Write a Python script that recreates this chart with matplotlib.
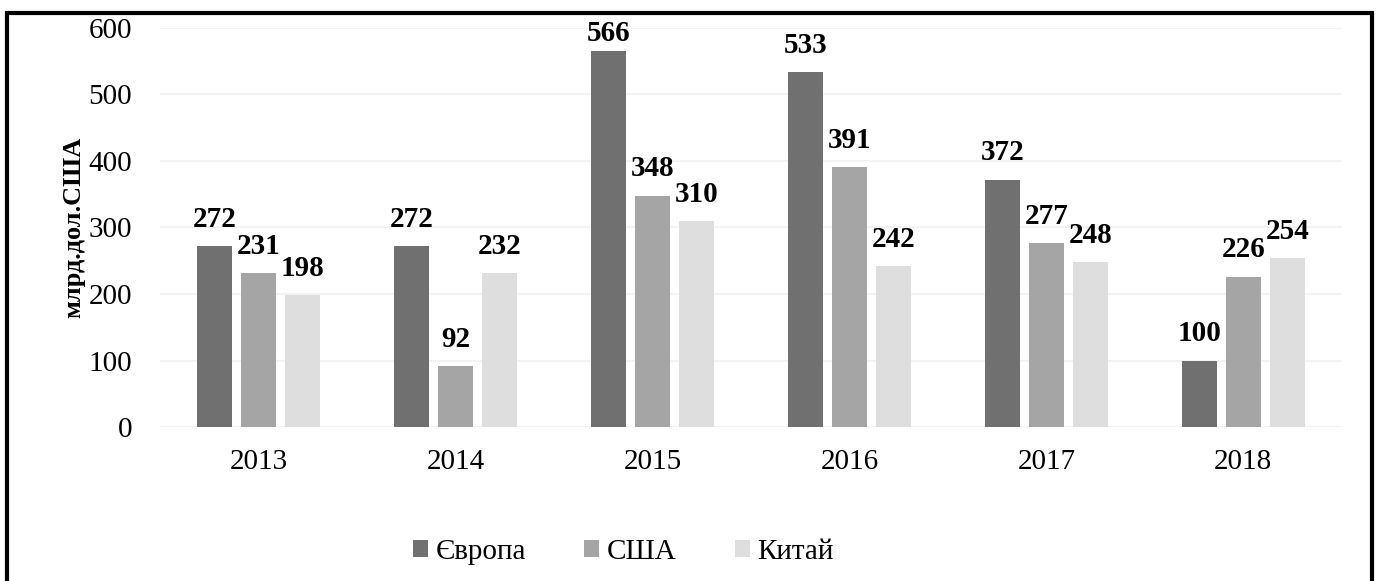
import matplotlib.pyplot as plt
import numpy as np
from matplotlib.patches import Rectangle

plt.rcParams['font.family'] = ['Liberation Serif', 'DejaVu Serif']

years = ['2013', '2014', '2015', '2016', '2017', '2018']
europe = [272, 272, 566, 533, 372, 100]
usa = [231, 92, 348, 391, 277, 226]
china = [198, 232, 310, 242, 248, 254]
series_names = ['Європа', 'США', 'Китай']
colors = ['#707070', '#a5a5a5', '#dedede']

fig = plt.figure(figsize=(13.79, 5.81), dpi=100)
ax = fig.add_axes([0.116, 0.265, 0.857, 0.687])

x = np.arange(len(years))
w = 0.178
step = 0.223
for i, (vals, name, c) in enumerate(zip([europe, usa, china], series_names, colors)):
    pos = x + (i - 1) * step
    bars = ax.bar(pos, vals, width=w, color=c, label=name, zorder=3)
    for b, v in zip(bars, vals):
        # label of the tallest bar is pushed down so it stays inside the frame
        off = 9.5 if v < 550 else 2.5
        ax.annotate(str(v), (b.get_x() + b.get_width() / 2, v), xytext=(0, off),
                    textcoords='offset points', ha='center', va='bottom',
                    fontsize=21, fontweight='bold', zorder=4)

ax.set_ylim(0, 600)
ax.set_xlim(-0.5, len(years) - 0.5)
ax.set_yticks(range(0, 601, 100))
ax.set_xticks(x)
ax.set_xticklabels(years)
ax.tick_params(axis='both', length=0, labelsize=21)
ax.tick_params(axis='y', pad=20)
ax.tick_params(axis='x', pad=16)
ax.grid(axis='y', color='#f3f3f3', linewidth=1.5, zorder=0)
for s in ax.spines.values():
    s.set_visible(False)
ax.set_ylabel('млрд.дол.США', fontsize=19, fontweight='bold', labelpad=2)

ax.legend(loc='center', bbox_to_anchor=(0.452, 0.05), bbox_transform=fig.transFigure,
          ncol=3, frameon=False, fontsize=21, handlelength=0.52, handleheight=0.52,
          handletextpad=0.25, columnspacing=2.0)

fig.patches.append(Rectangle((0.005, -0.05), 0.99, 1.027, transform=fig.transFigure,
                             fill=False, edgecolor='black', linewidth=3, clip_on=False))

fig.savefig('out.png', dpi=100)
